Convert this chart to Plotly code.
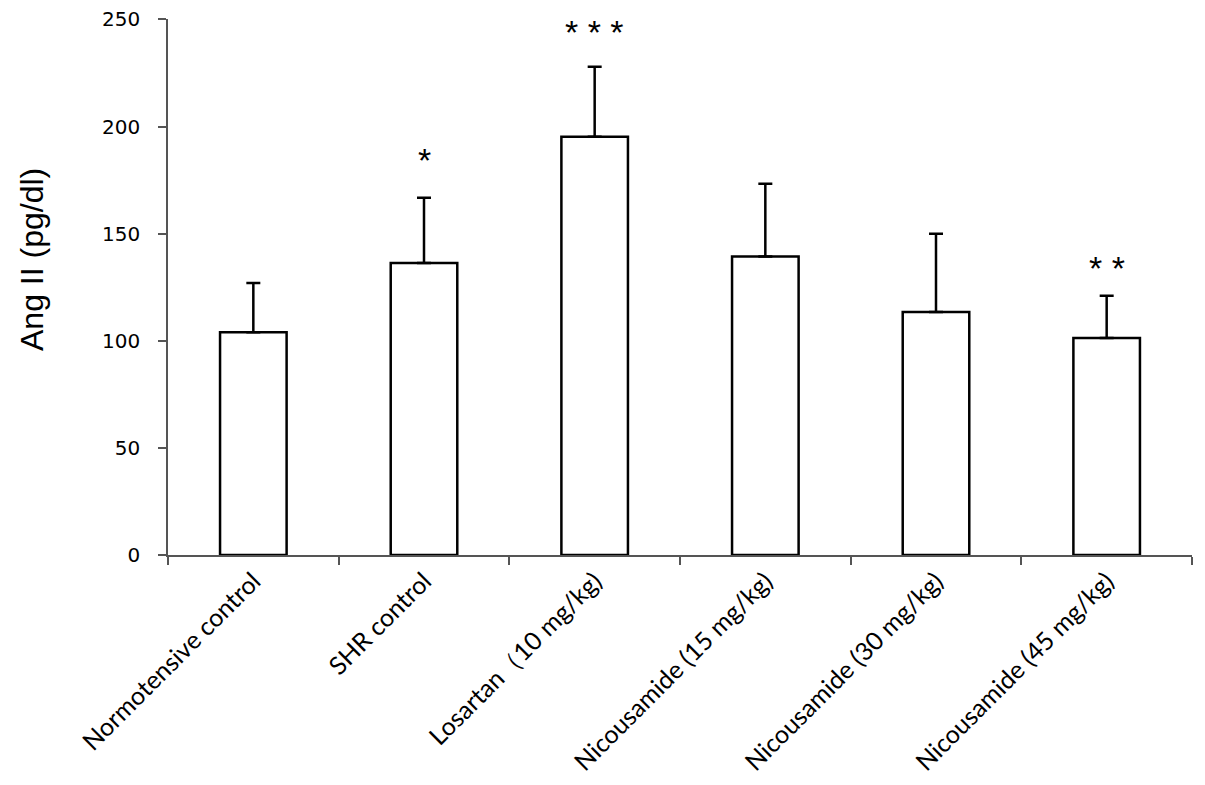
import plotly.graph_objects as go

categories = ["Normotensive control", "SHR control", "Losartan\uff0810 mg/kg)",
              "Nicousamide (15 mg/kg)", "Nicousamide (30 mg/kg)", "Nicousamide (45 mg/kg)"]
means = [104, 136.3, 195.2, 139.3, 113.4, 101.3]
errors = [23, 30.5, 32.7, 34, 36.5, 19.7]
signif = ["", "*", "* * *", "", "", "* *"]
signif_y = [0, 184.6, 244, 0, 0, 134]
y_ticks = [0, 50, 100, 150, 200, 250]
y_title = "Ang II (pg/dl)"

fig = go.Figure()
fig.add_trace(go.Bar(
    x=categories, y=means,
    marker=dict(color="white", line=dict(color="black", width=2.5)),
    error_y=dict(type="data", array=errors, symmetric=False, arrayminus=[0]*6,
                 color="black", thickness=2.5, width=7),
))

for c, s, yv in zip(categories, signif, signif_y):
    if s:
        fig.add_annotation(x=c, y=yv, text=s, showarrow=False, yanchor="middle",
                           font=dict(family="Liberation Sans", size=34, color="black"))

fig.add_annotation(xref="paper", yref="paper", x=0, y=0.5504, xshift=-136,
                   text=y_title, textangle=-90, showarrow=False,
                   xanchor="center", yanchor="middle",
                   font=dict(family="Liberation Sans", size=32, color="black"))

fig.update_layout(
    width=1197, height=777,
    margin=dict(l=160, r=13, t=11, b=230, autoexpand=False),
    paper_bgcolor="white", plot_bgcolor="white",
    bargap=0.61, showlegend=False,
    xaxis=dict(type="category", tickson="boundaries", ticks="outside", ticklen=8,
               tickcolor="#555", tickwidth=1.5, showline=True, linecolor="#555", linewidth=1.5,
               tickangle=-45, tickfont=dict(family="Lato", size=25, color="black"),
               showgrid=False, automargin=False),
    yaxis=dict(range=[0, 250.2], tickmode="array", tickvals=y_ticks,
               ticks="outside", ticklen=8, tickcolor="#555",
               tickwidth=1.5, showline=True, linecolor="#555", linewidth=1.5,
               showgrid=False, zeroline=False, ticklabelstandoff=14,
               ticklabeloverflow="allow", automargin=False,
               tickfont=dict(family="DejaVu Sans", size=20, color="black")),
)

fig.write_html("out.html")
